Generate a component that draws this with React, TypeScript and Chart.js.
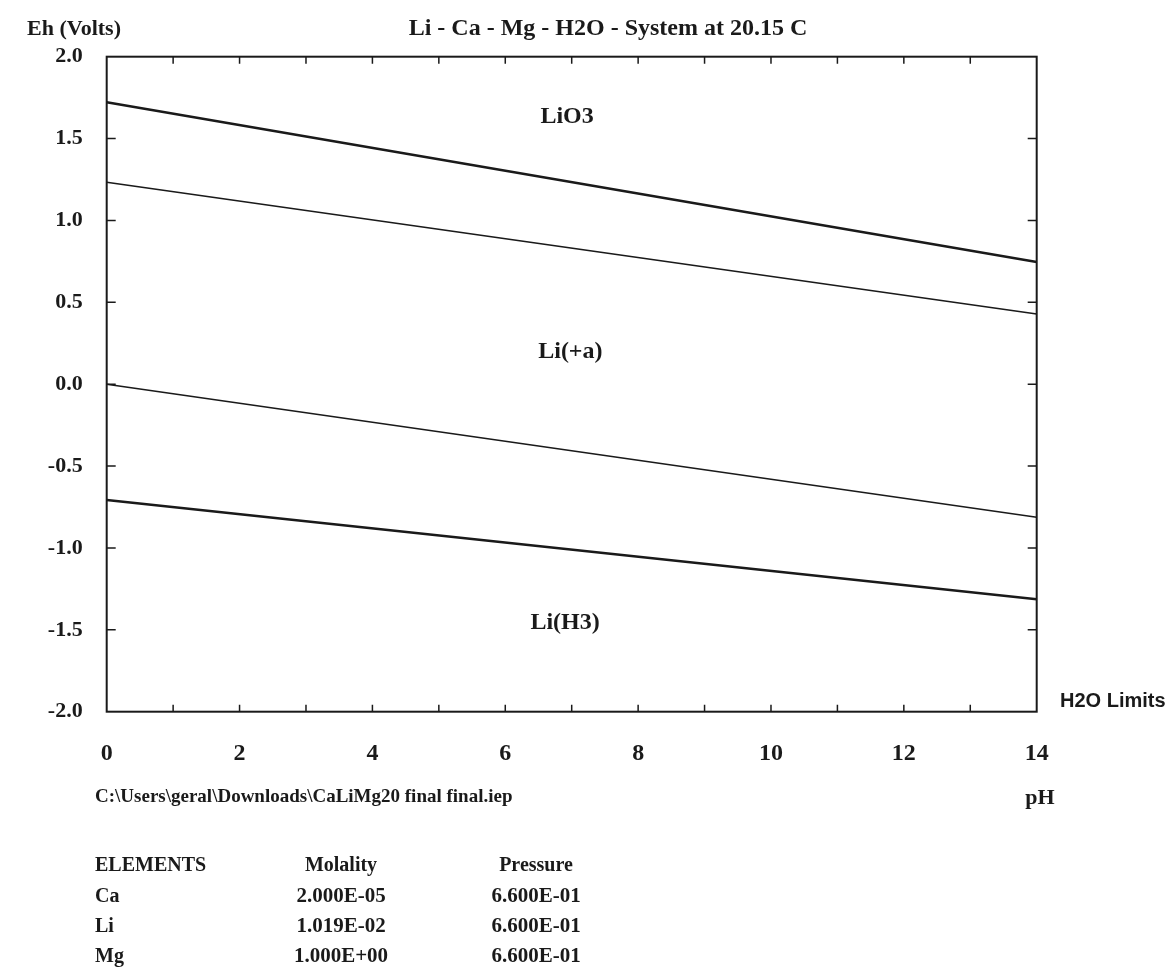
import React, { useEffect, useRef } from "react";
import { Chart, registerables } from "chart.js";

Chart.register(...registerables);

// pH end points of each boundary line
const phValues = [0, 14];
// Eh (Volts) at pH 0 and pH 14
const upperThick = [1.722, 0.746];
const waterUpper = [1.233, 0.429];
const waterLower = [0.0, -0.813];
const lowerThick = [-0.707, -1.314];

const xTickLabels = ["0", "2", "4", "6", "8", "10", "12", "14"];
const yTickLabels = ["-2.0", "-1.5", "-1.0", "-0.5", "0.0", "0.5", "1.0", "1.5", "2.0"];

const regionNames = ["LiO3", "Li(+a)", "Li(H3)"];
const regionPh = [6.93, 6.98, 6.9];
const regionEh = [1.63, 0.2, -1.46];

const elementNames = ["Ca", "Li", "Mg"];
const molalities = ["2.000E-05", "1.019E-02", "1.000E+00"];
const pressures = ["6.600E-01", "6.600E-01", "6.600E-01"];

const SERIF = "'Liberation Serif', 'Times New Roman', serif";
const INK = "#1a1a1a";

const mk = (ys: number[], w: number) => ({
  data: phValues.map((x, i) => ({ x, y: ys[i] })),
  showLine: true,
  borderColor: INK,
  borderWidth: w,
  pointRadius: 0,
  fill: false,
});

const decorPlugin = {
  id: "decor",
  afterDraw(chart: any) {
    const ctx = chart.ctx as CanvasRenderingContext2D;
    const { left, right, top, bottom } = chart.chartArea;
    const xs = chart.scales.x;
    const ys = chart.scales.y;
    ctx.save();
    ctx.strokeStyle = INK;
    ctx.lineWidth = 2;
    ctx.strokeRect(left, top, right - left, bottom - top);
    ctx.lineWidth = 1.5;
    ctx.beginPath();
    for (let v = 1; v < 14; v++) {
      const px = xs.getPixelForValue(v);
      ctx.moveTo(px, bottom);
      ctx.lineTo(px, bottom - 7);
      ctx.moveTo(px, top);
      ctx.lineTo(px, top + 7);
    }
    for (let v = -1.5; v < 2; v += 0.5) {
      const py = ys.getPixelForValue(v);
      ctx.moveTo(left, py);
      ctx.lineTo(left + 9, py);
      ctx.moveTo(right, py);
      ctx.lineTo(right - 9, py);
    }
    ctx.stroke();

    ctx.fillStyle = INK;
    ctx.textBaseline = "middle";
    ctx.font = `bold 24px ${SERIF}`;
    ctx.textAlign = "center";
    ctx.fillText("Li - Ca - Mg - H2O - System at 20.15 C", 608, 29);
    ctx.textAlign = "right";
    ctx.font = `bold 22px ${SERIF}`;
    ctx.fillText("Eh (Volts)", 121, 29);

    ctx.textAlign = "center";
    ctx.font = `bold 24px ${SERIF}`;
    regionNames.forEach((n, i) => {
      ctx.fillText(n, xs.getPixelForValue(regionPh[i]), ys.getPixelForValue(regionEh[i]));
    });

    ctx.textAlign = "left";
    ctx.font = `bold 20px 'Liberation Sans', Arial, sans-serif`;
    ctx.fillText("H2O Limits", 1060, 701);
    ctx.restore();
  },
};

export default function App() {
  const ref = useRef<HTMLCanvasElement | null>(null);
  useEffect(() => {
    if (!ref.current) return;
    const chart = new Chart(ref.current, {
      type: "scatter",
      data: {
        datasets: [mk(upperThick, 2.5), mk(waterUpper, 1.6), mk(waterLower, 1.6), mk(lowerThick, 2.5)],
      },
      options: {
        animation: false,
        responsive: false,
        devicePixelRatio: 1,
        layout: { padding: { left: 0, top: 56.7, right: 138.3, bottom: 0 } },
        plugins: { legend: { display: false }, tooltip: { enabled: false } },
        scales: {
          x: {
            type: "linear",
            min: 0,
            max: 14,
            grid: { display: false, drawTicks: false },
            border: { display: false },
            afterFit: (s: any) => {
              s.height = 259.3;
            },
            ticks: {
              stepSize: 2,
              padding: 28,
              color: INK,
              font: { family: SERIF, weight: "bold", size: 24 },
              callback: (v: any) => xTickLabels[Math.round(Number(v) / 2)] ?? "",
            },
          },
          y: {
            type: "linear",
            min: -2,
            max: 2,
            grid: { display: false, drawTicks: false },
            border: { display: false },
            afterFit: (s: any) => {
              s.width = 106.7;
            },
            ticks: {
              stepSize: 0.5,
              padding: 24,
              color: INK,
              font: { family: SERIF, weight: "bold", size: 22 },
              callback: (v: any) => yTickLabels[Math.round((Number(v) + 2) * 2)] ?? "",
            },
          },
        },
      },
      plugins: [decorPlugin],
    });
    return () => chart.destroy();
  }, []);

  const txt: React.CSSProperties = {
    position: "absolute",
    fontFamily: SERIF,
    fontWeight: "bold",
    fontSize: 20,
    color: INK,
    lineHeight: "24px",
    whiteSpace: "nowrap",
  };
  const headY = 864;
  const rowY = [895, 925, 955];

  return (
    <div style={{ position: "absolute", left: 0, top: 0, width: 1175, height: 971, background: "#fff", overflow: "hidden" }}>
      <canvas ref={ref} width={1175} height={971} style={{ position: "absolute", left: 0, top: 0, width: 1175, height: 971 }} />
      <div style={{ ...txt, fontSize: 19, left: 95, top: 784 }}>C:\Users\geral\Downloads\CaLiMg20 final final.iep</div>
      <div style={{ ...txt, fontSize: 22, left: 1040, top: 785, transform: "translateX(-50%)" }}>pH</div>
      <div style={{ ...txt, left: 95, top: headY - 12 }}>ELEMENTS</div>
      <div style={{ ...txt, left: 341, top: headY - 12, transform: "translateX(-50%)" }}>Molality</div>
      <div style={{ ...txt, left: 536, top: headY - 12, transform: "translateX(-50%)" }}>Pressure</div>
      {elementNames.map((n, i) => (
        <React.Fragment key={n}>
          <div style={{ ...txt, left: 95, top: rowY[i] - 12 }}>{n}</div>
          <div style={{ ...txt, fontSize: 21, left: 341, top: rowY[i] - 12, transform: "translateX(-50%)" }}>{molalities[i]}</div>
          <div style={{ ...txt, fontSize: 21, left: 536, top: rowY[i] - 12, transform: "translateX(-50%)" }}>{pressures[i]}</div>
        </React.Fragment>
      ))}
    </div>
  );
}
